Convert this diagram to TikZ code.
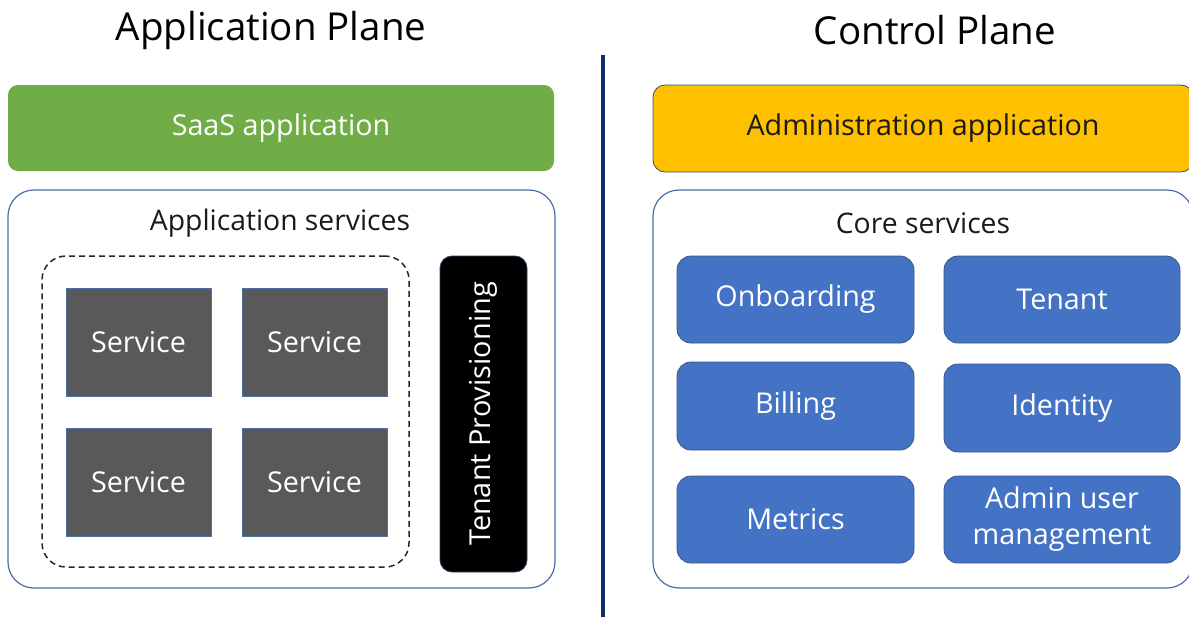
\documentclass[tikz,border=0pt]{standalone}
\usepackage{fontspec}
\setmainfont{Open Sans}
\definecolor{appgreen}{HTML}{70AD47}
\definecolor{admyellow}{HTML}{FFC000}
\definecolor{corblue}{HTML}{4472C4}
\definecolor{svcgray}{HTML}{595959}
\definecolor{edgeblue}{HTML}{4A6FA5}
\definecolor{navy}{HTML}{12296B}
\definecolor{txtdark}{HTML}{1A1A1A}
\tikzset{
  box/.style={inner sep=0pt, outer sep=0pt, align=center},
  titletext/.style={font=\fontsize{38.5}{42}\selectfont, text=black},
  greenbox/.style={box, fill=appgreen, rounded corners=10pt, text=white, font=\fontsize{28.7}{32}\selectfont},
  yellowbox/.style={box, fill=admyellow, draw=edgeblue!70!black, line width=0.8pt, rounded corners=12pt, text=txtdark, font=\fontsize{28.7}{32}\selectfont},
  groupbox/.style={box, draw=edgeblue, line width=1.2pt, rounded corners=26pt, fill=white},
  grouplabel/.style={font=\fontsize{28.3}{31}\selectfont, text=txtdark},
  dashbox/.style={box, draw=black!85, line width=1.5pt, dash pattern=on 6pt off 4pt, rounded corners=24pt},
  svcbox/.style={box, fill=svcgray, draw=edgeblue, line width=1pt, text=white, font=\fontsize{28.7}{32}\selectfont},
  provbox/.style={box, fill=black, draw=edgeblue!60!black, line width=0.8pt, rounded corners=12pt},
  provtext/.style={rotate=90, text=white, font=\fontsize{28.9}{32}\selectfont},
  corebox/.style={box, fill=corblue, draw=edgeblue!80!black, line width=0.8pt, rounded corners=14pt, text=white, font=\fontsize{28.7}{36}\selectfont},
}
\begin{document}
\begin{tikzpicture}[x=1pt, y=-1pt]
\useasboundingbox (0,0) rectangle (1189,616);
\clip (0,0) rectangle (1189,616);
% titles
\node[titletext] (tapp) at (271,30) {Application Plane};
\node[titletext] (tctl) at (935,30) {Control Plane};
% divider
\coordinate (dtop) at (603,55);
\coordinate (dbot) at (603,620);
\draw[navy, line width=3.5pt] (dtop) -- (dbot);
% left side
\node[greenbox, minimum width=546pt, minimum height=86pt] (saas) at (281,128) {SaaS application};
\node[groupbox, minimum width=547pt, minimum height=398pt] (appsvc) at (281.5,389) {};
\node[grouplabel] (appsvclbl) at (280,223) {Application services};
\node[dashbox, minimum width=367pt, minimum height=311pt] (dash) at (225.5,411.5) {};
\node[svcbox, minimum width=145pt, minimum height=108pt] (s1) at (138.5,342) {Service};
\node[svcbox, minimum width=145pt, minimum height=108pt] (s2) at (314.5,342) {Service};
\node[svcbox, minimum width=145pt, minimum height=108pt] (s3) at (138.5,482) {Service};
\node[svcbox, minimum width=145pt, minimum height=108pt] (s4) at (314.5,482) {Service};
\node[provbox, minimum width=87pt, minimum height=316pt] (prov) at (483.5,414) {};
\node[provtext] (provlbl) at (prov.center) {Tenant Provisioning};
% right side
\node[yellowbox, minimum width=540pt, minimum height=87pt] (adm) at (923,128.5) {Administration application};
\node[groupbox, minimum width=540pt, minimum height=398pt] (core) at (923,389) {};
\node[grouplabel] (corelbl) at (923,223) {Core services};
\node[corebox, minimum width=237pt, minimum height=87pt] (onb) at (795.5,299.5) {Onboarding};
\node[corebox, minimum width=236pt, minimum height=87pt] (ten) at (1062,299.5) {Tenant};
\node[corebox, minimum width=237pt, minimum height=88pt] (bil) at (795.5,406) {Billing};
\node[corebox, minimum width=236pt, minimum height=88pt] (idn) at (1062,408) {Identity};
\node[corebox, minimum width=237pt, minimum height=87pt] (met) at (795.5,519.5) {Metrics};
\node[corebox, minimum width=236pt, minimum height=87pt] (aum) at (1062,519.5) {Admin user\\management};
\end{tikzpicture}
\end{document}
